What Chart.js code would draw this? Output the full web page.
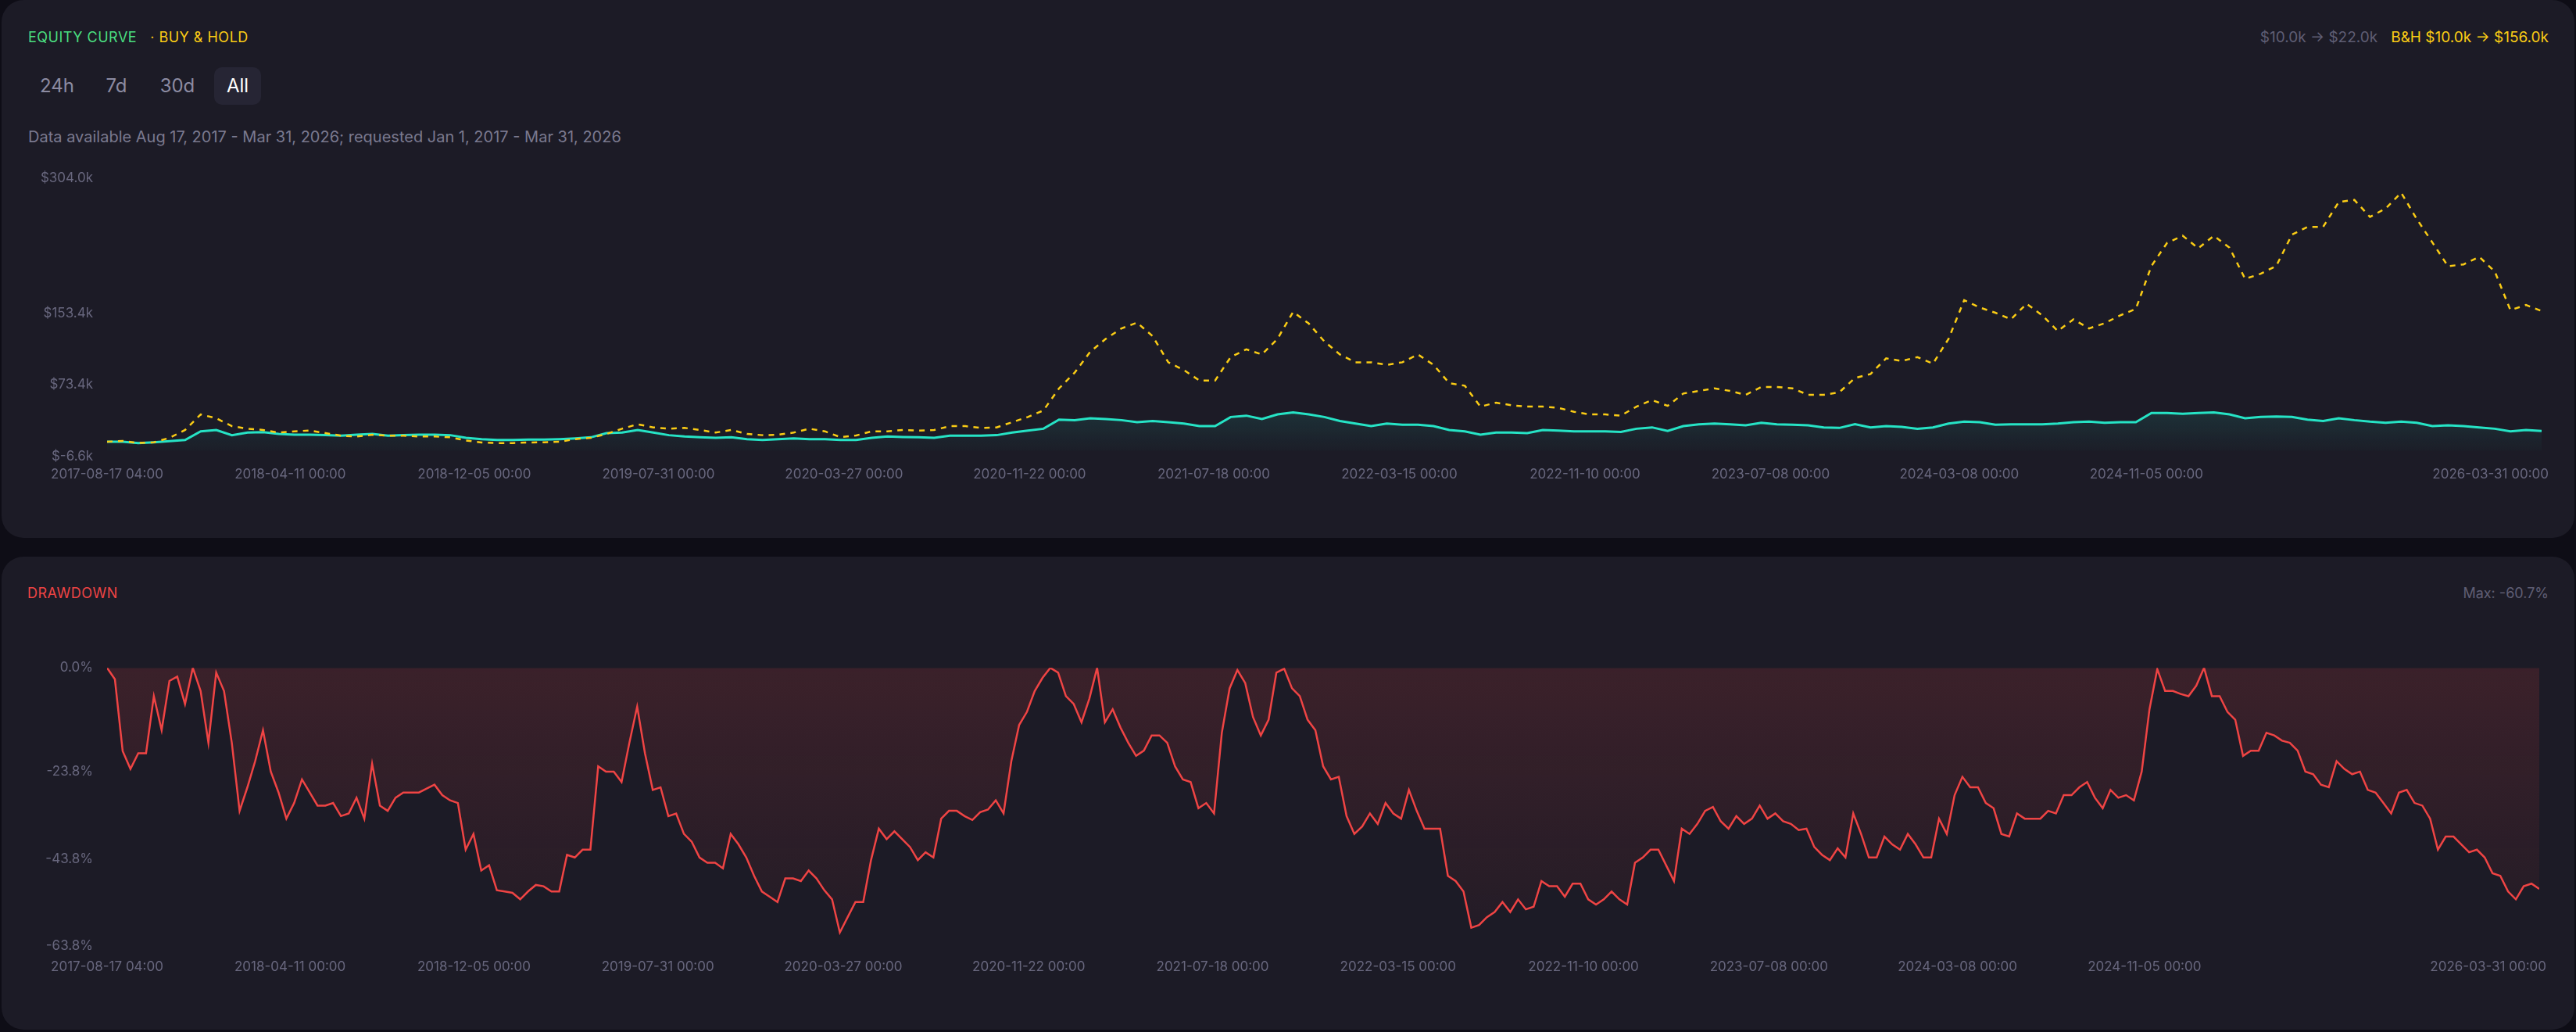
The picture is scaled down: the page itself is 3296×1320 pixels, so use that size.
<!DOCTYPE html>
<html lang="en">
<head>
<meta charset="UTF-8">
<title>Equity Curve / Drawdown</title>
<script src="https://cdn.jsdelivr.net/npm/chart.js"></script>
<style>
  * { margin: 0; padding: 0; box-sizing: border-box; }
  body {
    width: 3296px; height: 1320px; overflow: hidden;
    background: #0e0d16; position: relative;
    font-family: 'Inter', 'Noto Sans', sans-serif;
  }
  .panel { position: absolute; left: 2px; width: 3292px; background: #1c1b26; border-radius: 28px; }
  #equityPanel { top: 0; height: 688px; }
  #ddPanel { top: 712px; height: 605px; }
  .txt { position: absolute; font-size: 18px; line-height: 24px; white-space: nowrap; }
  .caps { letter-spacing: 0.5px; }
  .green { color: #4ade80; }
  .yellow { color: #facc15; }
  .muted { color: #5f5e74; }
  .red { color: #ef4444; }
  .btn {
    position: absolute; top: 86px; width: 60px; height: 48px; margin-left: -30px;
    border-radius: 10px; font-size: 24px; line-height: 48px; text-align: center; color: #8c8ba2;
  }
  .btn.active { background: #262534; color: #ffffff; }
  .note { color: #7a798f; font-size: 20px; }
  .chartBox { position: absolute; left: 34px; width: 3230px; }
</style>
</head>
<body>
  <div class="panel" id="equityPanel">
    <div class="txt caps" style="left:34px; top:36px;">
      <span class="green">EQUITY CURVE</span><span class="yellow" style="margin-left:17px;">· BUY &amp; HOLD</span>
    </div>
    <div class="txt" style="right:33px; top:36px; font-size:19px;">
      <span class="muted">$10.0k → $22.0k</span><span class="yellow" style="margin-left:17px;">B&amp;H $10.0k → $156.0k</span>
    </div>
    <div class="btn" style="left:71px;">24h</div>
    <div class="btn" style="left:147px;">7d</div>
    <div class="btn" style="left:225px;">30d</div>
    <div class="btn active" style="left:302px;">All</div>
    <div class="txt note" style="left:34px; top:163px;">Data available Aug 17, 2017 - Mar 31, 2026; requested Jan 1, 2017 - Mar 31, 2026</div>
    <div class="chartBox" style="top:200px; height:430px;"><canvas id="equityChart"></canvas></div>
  </div>

  <div class="panel" id="ddPanel">
    <div class="txt caps red" style="left:33px; top:35px;">DRAWDOWN</div>
    <div class="txt muted" style="right:33px; top:35px;">Max: -60.7%</div>
    <div class="chartBox" style="top:114px; height:434px;"><canvas id="ddChart"></canvas></div>
  </div>

<script>
// values in $k, evenly sampled from 2017-08-17 04:00 to 2026-03-31 00:00
const equity = [
  10.0, 10.0, 8.5, 9.4, 10.6, 12.0, 21.6, 23.1, 17.3, 20.2,
  20.7, 18.7, 17.8, 17.8, 17.3, 16.7, 17.8, 18.7, 16.7, 17.3,
  17.8, 17.8, 17.3, 14.3, 12.9, 12.0, 12.0, 12.3, 12.3, 12.9,
  13.8, 14.9, 19.6, 20.2, 23.1, 20.2, 17.3, 15.8, 14.9, 14.3,
  14.9, 12.9, 12.0, 12.9, 13.8, 12.9, 12.9, 12.0, 12.0,
  14.3, 15.8, 15.2, 14.9, 14.3, 16.7, 16.7, 16.7, 17.3, 20.2,
  22.5, 24.5, 34.7, 34.1, 36.2, 35.3, 34.1, 31.8, 33.2, 31.8,
  30.3, 27.4, 27.4, 37.6, 39.1, 35.3, 40.5, 42.8, 40.5, 37.6,
  33.2, 30.3, 27.4, 30.3, 28.9, 28.9, 27.4, 23.1, 21.6, 17.8,
  20.2, 20.2, 19.6, 23.1, 22.5, 21.6, 21.6, 21.6, 21.0, 24.5,
  26.0, 22.0,
  27.4, 29.5, 30.3, 29.5, 28.3, 31.2, 29.5, 28.9, 28.3, 26.0,
  25.4, 29.5, 26.0, 27.4, 26.6, 24.5, 26.0, 30.3, 32.4, 31.8,
  28.9, 29.5, 29.5, 29.5, 30.3, 31.8, 32.4, 31.2, 31.8, 31.8,
  42.0, 42.0, 41.1, 42.0, 42.8, 40.5, 36.2, 37.6, 38.2, 37.6,
  34.7, 33.2, 36.2, 34.1, 32.4, 31.2, 32.4, 31.2, 27.4, 28.3,
  27.4, 26.0, 24.5, 21.6, 23.1, 22.0
];

const buyHold = [
  10.0, 10.9, 8.5, 9.4, 14.3, 23.1, 40.5, 36.2, 27.4, 24.5,
  23.1, 20.2, 21.6, 22.5, 19.6, 16.7, 15.8, 17.8, 16.7, 16.7,
  15.8, 15.8, 14.9, 11.4, 9.1, 8.5, 8.5, 9.1, 9.4, 10.0,
  12.9, 14.3, 18.7, 24.5, 29.5, 26.0, 24.5, 25.4, 23.1, 20.2,
  23.1, 18.7, 17.3, 17.8, 20.2, 24.5, 21.6, 15.0, 17.0,
  21.6, 21.6, 23.1, 22.5, 23.1, 27.4, 27.4, 25.4, 26.0, 31.8,
  37.6, 44.9, 69.6, 87.1, 110.4, 124.9, 136.5, 143.0, 127.8, 98.7,
  90.0, 78.3, 78.3, 104.5, 113.2, 107.4, 124.9, 155.0, 142.0, 122.0,
  107.4, 98.7, 98.7, 95.8, 98.7, 107.4, 95.8, 75.4, 72.5, 49.2,
  53.6, 50.7, 49.2, 49.2, 47.8, 43.4, 40.5, 40.5, 39.1, 49.2,
  56.5, 50.0,
  63.8, 66.7, 69.6, 66.7, 62.3, 71.1, 71.1, 69.6, 62.3, 62.3,
  65.2, 81.2, 85.6, 103.1, 100.1, 104.5, 97.2, 124.9, 168.0, 159.8,
  154.0, 146.7, 164.1, 151.1, 133.6, 146.7, 136.5, 142.3, 151.1, 158.3,
  206.3, 232.0, 240.0, 226.0, 240.0, 226.7, 191.8, 197.6, 206.3, 241.2,
  249.9, 249.9, 277.6, 280.0, 261.0, 270.3, 288.0, 258.7, 232.5, 206.0,
  208.0, 216.5, 200.0, 157.0, 162.7, 156.0
];

// percent below running peak, finer sampling over the same span
const drawdown = [
  0, -2.6, -19.1, -23.2, -19.6, -19.6, -6.5, -14.3, -3.0, -2.0,
  -8.3, 0, -5.3, -17.2, -1.1, -5.3, -17.2, -32.8, -27.4, -21.4,
  -14.3, -23.8, -28.6, -34.6, -31.0, -25.6, -28.6, -31.6, -31.6, -31.0,
  -34.0, -33.4, -29.8, -34.6, -22.0, -31.6, -32.8, -29.8, -28.6, -28.6,
  -28.6, -27.7, -26.8, -29.2, -30.4, -31.0, -41.7, -38.1, -46.5, -45.3,
  -51.0, -51.3, -51.6, -53.1, -51.3, -49.8, -50.1, -51.3, -51.3, -42.9,
  -43.5, -41.7, -41.7, -22.6, -23.8, -23.8, -26.2, -17.2, -8.9, -19.6,
  -28.0, -27.4, -34.0, -33.4, -38.1, -39.9, -43.5, -44.7, -44.7, -46.0,
  -38.1, -40.5, -43.5, -47.7, -51.3, -52.5, -53.7, -48.3, -48.3, -48.9,
  -46.5, -48.3, -51.0, -53.1, -60.7, -57.2, -53.7, -53.7, -44.1, -36.9,
  -39.3, -37.5, -39.3, -41.1, -44.1, -42.3, -43.5, -34.6, -32.8, -32.8,
  -34.0, -34.9, -33.1, -32.5, -30.4, -33.4, -21.4, -13.1, -10.1, -5.3,
  -2.3, 0, -1.1, -6.5, -8.3, -12.5, -7.1, 0, -12.5, -9.5,
  -13.7, -17.2, -20.2, -19.0, -15.5, -15.5, -17.2, -22.6, -25.6, -26.2,
  -32.2, -31.0, -33.4, -14.9, -4.7, -0.5, -3.5, -11.3, -15.5, -11.9,
  -1.1, -0.2, -4.7, -6.5, -11.9, -14.3, -22.6, -25.6, -25.0, -34.0,
  -38.1, -36.4, -33.4, -35.8, -31.0, -33.4, -34.6, -28.0, -32.8, -36.9,
  -36.9, -36.9, -47.7, -48.9, -51.3, -59.6, -59.0, -57.2, -56.0, -53.7,
  -56.0, -53.1, -55.4, -54.8, -48.9, -50.1, -50.1, -52.5, -49.5, -49.5,
  -53.1, -54.3, -53.1, -51.3, -53.1, -54.3, -44.7, -43.5, -41.7, -41.7,
  -45.3, -48.9, -36.9, -38.1, -35.8, -32.8, -31.9, -35.2, -36.9, -34.0,
  -35.8, -34.6, -31.6, -34.6, -33.4, -35.2, -35.8, -37.2, -36.9, -41.1,
  -42.9, -44.1, -41.4, -43.5, -33.4, -38.1, -43.5, -43.5, -38.7, -40.5,
  -41.7, -38.1, -40.5, -43.5, -43.5, -34.6, -38.1, -29.2, -25.0, -27.4,
  -27.4, -31.0, -32.2, -38.1, -38.7, -33.4, -34.6, -34.6, -34.6, -32.8,
  -33.4, -29.2, -29.2, -27.4, -26.2, -29.8, -32.2, -28.0, -29.8, -29.2,
  -30.4, -23.8, -9.5, -0.3, -5.3, -5.3, -6.0, -6.5, -4.1, 0,
  -6.5, -6.5, -10.1, -11.9, -20.2, -19.0, -19.0, -14.9, -15.5, -16.7,
  -17.2, -19.0, -23.8, -24.4, -26.8, -27.4, -21.4, -23.2, -24.4, -23.8,
  -28.0, -28.6, -31.0, -33.4, -28.6, -28.0, -31.0, -31.6, -34.6, -41.7,
  -38.7, -38.7, -40.5, -42.3, -41.7, -43.5, -47.1, -47.7, -51.3, -53.1,
  -50.1, -49.5, -50.7
];

const xTickLabels = [
  '2017-08-17 04:00', '2018-04-11 00:00', '2018-12-05 00:00', '2019-07-31 00:00',
  '2020-03-27 00:00', '2020-11-22 00:00', '2021-07-18 00:00', '2022-03-15 00:00',
  '2022-11-10 00:00', '2023-07-08 00:00', '2024-03-08 00:00', '2024-11-05 00:00',
  '2026-03-31 00:00'
];
const equityTicks = [-6.6, 73.4, 153.4, 304.0];
const drawdownTicks = [0, -23.8, -43.8, -63.8];

function parseStamp(s) {
  const [d, t] = s.split(' ');
  const [y, m, day] = d.split('-').map(Number);
  const [h, min] = t.split(':').map(Number);
  return Date.UTC(y, m - 1, day, h, min);
}

const xTickValues = xTickLabels.map(parseStamp);
const startTs = xTickValues[0];
const endTs = xTickValues[xTickValues.length - 1];

// sample positions of a series spread evenly over the date range
function toPoints(arr) {
  const step = (endTs - startTs) / (arr.length - 1);
  return arr.map((v, i) => ({ x: startTs + i * step, y: v }));
}

const tickColor = '#68677e';
const tickFont = { family: 'Inter', size: 17 };

// last date label sits right-aligned at the end of the axis
const lastXLabel = {
  id: 'lastXLabel',
  afterDraw(chart, args, opts) {
    const { ctx, chartArea } = chart;
    ctx.save();
    ctx.font = '17px Inter';
    ctx.fillStyle = tickColor;
    ctx.textAlign = 'right';
    ctx.textBaseline = 'middle';
    ctx.fillText(xTickLabels[xTickLabels.length - 1], chartArea.right + 9, chartArea.bottom + opts.pad + 10.2);
    ctx.restore();
  }
};

function xScale(pad, height) {
  return {
    type: 'linear', min: startTs, max: endTs,
    grid: { display: false, drawTicks: false }, border: { display: false },
    afterBuildTicks: s => { s.ticks = xTickValues.map(v => ({ value: v })); },
    afterFit: s => { s.height = height; },
    ticks: {
      autoSkip: false, maxRotation: 0, color: tickColor, font: tickFont, padding: pad,
      callback: (v, i) => i === xTickLabels.length - 1 ? '' : xTickLabels[i]
    }
  };
}

function yScale(min, max, ticks, fmt) {
  return {
    min: min, max: max,
    grid: { display: false, drawTicks: false }, border: { display: false },
    afterBuildTicks: s => { s.ticks = ticks.map(v => ({ value: v })); },
    afterFit: s => { s.width = 101; },
    ticks: { color: tickColor, font: tickFont, padding: 18, callback: fmt }
  };
}

const baseOptions = {
  responsive: true,
  maintainAspectRatio: false,
  animation: false,
  events: [],
  layout: { padding: { top: 0, right: 14, left: 0, bottom: 0 } },
  elements: { point: { radius: 0 }, line: { tension: 0 } }
};

new Chart(document.getElementById('equityChart'), {
  type: 'line',
  data: {
    datasets: [
      {
        label: 'Buy & Hold',
        data: toPoints(buyHold),
        borderColor: '#facc15',
        borderWidth: 2.5,
        borderDash: [7, 7],
        fill: false
      },
      {
        label: 'Equity',
        data: toPoints(equity),
        borderColor: '#26e3c5',
        borderWidth: 3,
        fill: 'origin',
        backgroundColor: ctx => {
          const a = ctx.chart.chartArea;
          if (!a) return 'transparent';
          const g = ctx.chart.ctx.createLinearGradient(0, a.bottom - 70, 0, a.bottom);
          g.addColorStop(0, 'rgba(38,227,197,0.14)');
          g.addColorStop(1, 'rgba(38,227,197,0)');
          return g;
        }
      }
    ]
  },
  options: Object.assign({}, baseOptions, {
    plugins: { legend: { display: false }, tooltip: { enabled: false }, lastXLabel: { pad: 13 } },
    scales: {
      x: xScale(13, 46),
      y: yScale(-6.6, 304.0, equityTicks, v => '$' + v.toFixed(1) + 'k')
    }
  }),
  plugins: [lastXLabel]
});

new Chart(document.getElementById('ddChart'), {
  type: 'line',
  data: {
    datasets: [{
      label: 'Drawdown',
      data: toPoints(drawdown),
      borderColor: '#ef4444',
      borderWidth: 2.5,
      fill: 'origin',
      backgroundColor: ctx => {
        const a = ctx.chart.chartArea;
        if (!a) return 'transparent';
        const g = ctx.chart.ctx.createLinearGradient(0, a.top, 0, a.bottom);
        g.addColorStop(0, 'rgba(239,68,68,0.15)');
        g.addColorStop(1, 'rgba(239,68,68,0.03)');
        return g;
      }
    }]
  },
  options: Object.assign({}, baseOptions, {
    plugins: { legend: { display: false }, tooltip: { enabled: false }, lastXLabel: { pad: 17 } },
    scales: {
      x: xScale(17, 50),
      y: yScale(-63.8, 0, drawdownTicks, v => v.toFixed(1) + '%')
    }
  }),
  plugins: [lastXLabel]
});
</script>
</body>
</html>
